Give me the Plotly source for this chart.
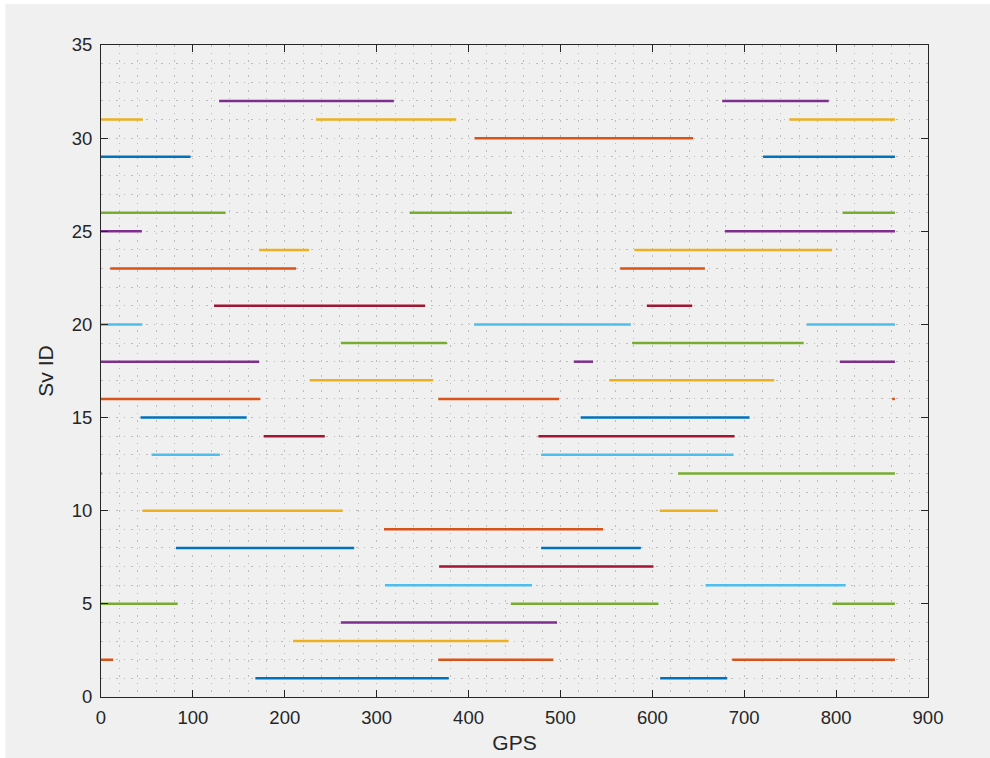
import plotly.graph_objects as go

# Visibility intervals per satellite: one entry per segment
seg_sv = [
    1, 1,
    2, 2, 2,
    3,
    4,
    5, 5, 5,
    6, 6,
    7,
    8, 8,
    9,
    10, 10,
    12, 12,
    13, 13,
    14, 14,
    15, 15,
    16, 16, 16,
    17, 17,
    18, 18, 18,
    19, 19,
    20, 20, 20,
    21, 21,
    23, 23,
    24, 24,
    25, 25,
    26, 26, 26,
    29, 29,
    30,
    31, 31, 31,
    32, 32,
]
seg_start = [
    168, 608.5,
    0, 367, 687,
    209,
    261,
    0, 446, 796,
    309, 658,
    368,
    81.5, 479,
    308,
    45, 608,
    0, 628,
    55, 479,
    177, 476,
    43, 522,
    0, 367, 861,
    227, 553,
    0, 514.5, 804,
    261, 578,
    0, 406, 768,
    123, 594,
    10, 565,
    172, 580.5,
    0, 679,
    0, 336, 807,
    0, 720.5,
    406.5,
    0, 234, 749,
    128.5, 676,
]
seg_end = [
    378.5, 681.5,
    13.3, 492.3, 864,
    443.6,
    496.3,
    83.4, 606.7, 864,
    469, 810.4,
    601.2,
    275.5, 587.5,
    546.4,
    263, 671.4,
    1, 864,
    129.4, 688.4,
    243.5, 689.5,
    158.5, 705.8,
    173.5, 498.5, 864,
    361.5, 732.7,
    172, 535.5, 864,
    376.4, 764.7,
    45, 576.6, 864,
    352.8, 643.4,
    212.3, 657.2,
    226.4, 795.6,
    44.5, 864,
    135.6, 447.3, 864,
    97.5, 864,
    644.5,
    45.5, 386.6, 864,
    318.7, 792,
]

x_ticks = [0, 100, 200, 300, 400, 500, 600, 700, 800, 900]
y_ticks = [0, 5, 10, 15, 20, 25, 30, 35]

# MATLAB default line color order
line_colors = ["#0072BD", "#D95319", "#EDB120", "#7E2F8E",
               "#77AC30", "#4DBEEE", "#A2142F"]

fig = go.Figure()

for sv in sorted(set(seg_sv)):
    xs, ys = [], []
    for s, a, b in zip(seg_sv, seg_start, seg_end):
        if s == sv:
            xs += [a, b, None]
            ys += [sv, sv, None]
    fig.add_trace(go.Scatter(
        x=xs, y=ys, mode="lines",
        line=dict(color=line_colors[(sv - 1) % 7], width=2.5),
        showlegend=False, hoverinfo="skip",
    ))

axis_color = "#262626"
grid_color = "#bdbdbd"
grid_dash = "1.5px,6px"
grid_style = dict(showgrid=True, gridcolor=grid_color, gridwidth=1, griddash=grid_dash)

fig.update_xaxes(
    range=[0, 900], tickvals=x_ticks, ticktext=[str(v) for v in x_ticks],
    ticks="inside", ticklen=7, tickcolor=axis_color, tickwidth=1,
    showline=True, linecolor=axis_color, linewidth=1, mirror="ticks",
    zeroline=False, **grid_style, ticklabelstandoff=4, automargin=False,
    minor=dict(dtick=20, showgrid=True, gridcolor=grid_color, gridwidth=1, griddash=grid_dash),
    title=dict(text="GPS", font=dict(size=21, color=axis_color), standoff=8),
    tickfont=dict(size=18.5, color=axis_color),
)
fig.update_yaxes(
    range=[0, 35], tickvals=y_ticks, ticktext=[str(v) for v in y_ticks],
    ticks="inside", ticklen=7, tickcolor=axis_color, tickwidth=1,
    showline=True, linecolor=axis_color, linewidth=1, mirror="ticks",
    zeroline=False, **grid_style, ticklabelstandoff=4, automargin=False,
    minor=dict(dtick=1, showgrid=True, gridcolor=grid_color, gridwidth=1, griddash=grid_dash),
    title=dict(text="Sv ID", font=dict(size=21, color=axis_color), standoff=12),
    tickfont=dict(size=18.5, color=axis_color),
)

# Figure window background (light gray panel)
fig.add_shape(type="rect", xref="paper", yref="paper",
              x0=-0.1156, x1=1.08, y0=-0.1, y1=1.063,
              fillcolor="#f0f0f0", line=dict(width=0), layer="below")

fig.update_layout(
    width=990, height=758,
    margin=dict(l=101, r=62, t=45, b=61),
    paper_bgcolor="white", plot_bgcolor="white",
    font=dict(family="Liberation Sans, Arial, Helvetica, sans-serif", color=axis_color),
)

fig.write_html("out.html")
